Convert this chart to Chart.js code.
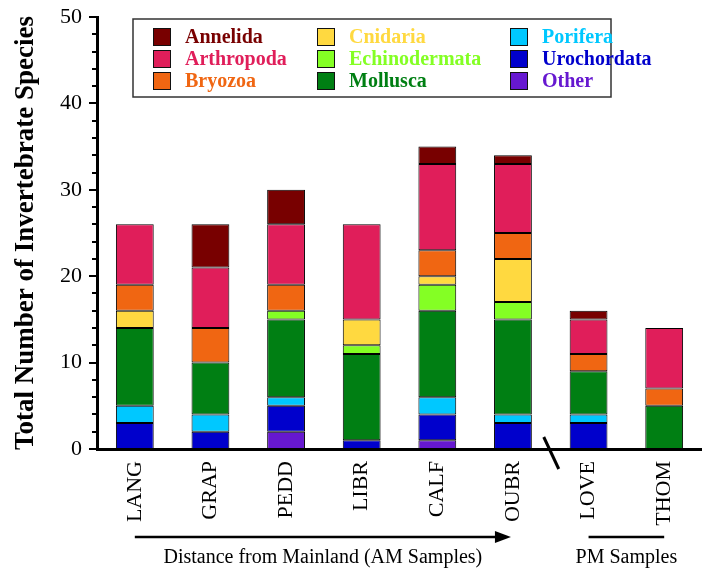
<!DOCTYPE html>
<html>
<head>
<meta charset="utf-8">
<script src="https://cdn.jsdelivr.net/npm/chart.js@4"></script>
<style>
  html, body { margin: 0; padding: 0; background: #fff; }
  #wrap { width: 702px; height: 569px; }
</style>
</head>
<body>
<div id="wrap"><canvas id="chart" width="702" height="569"></canvas></div>
<script>
// sites, left to right
const sites = ['LANG', 'GRAP', 'PEDD', 'LIBR', 'CALF', 'OUBR', 'LOVE', 'THOM'];

// species counts per phylum (bottom of stack first)
const other         = [0, 0, 2, 0, 1, 0, 0, 0];
const urochordata   = [3, 2, 3, 1, 3, 3, 3, 0];
const porifera      = [2, 2, 1, 0, 2, 1, 1, 0];
const mollusca      = [9, 6, 9, 10, 10, 11, 5, 5];
const echinodermata = [0, 0, 1, 1, 3, 2, 0, 0];
const cnidaria      = [2, 0, 0, 3, 1, 5, 0, 0];
const bryozoa       = [3, 4, 3, 0, 3, 3, 2, 2];
const arthropoda    = [7, 7, 7, 11, 10, 8, 4, 7];
const annelida      = [0, 5, 4, 0, 2, 1, 1, 0];

const yTicks = [0, 10, 20, 30, 40, 50];

const serif = '"Liberation Serif", "Times New Roman", serif';

const series = [
    { label: 'Other',         data: other,         color: '#6618d0' },
    { label: 'Urochordata',   data: urochordata,   color: '#0000cc' },
    { label: 'Porifera',      data: porifera,      color: '#00c8ff' },
    { label: 'Mollusca',      data: mollusca,      color: '#007f13' },
    { label: 'Echinodermata', data: echinodermata, color: '#84ff24' },
    { label: 'Cnidaria',      data: cnidaria,      color: '#ffd940' },
    { label: 'Bryozoa',       data: bryozoa,       color: '#f06612' },
    { label: 'Arthropoda',    data: arthropoda,    color: '#e01e5a' },
    { label: 'Annelida',      data: annelida,      color: '#780000' }
];

// legend columns (column-major, as in the figure)
const legendOrder = [
    ['Annelida', 'Arthropoda', 'Bryozoa'],
    ['Cnidaria', 'Echinodermata', 'Mollusca'],
    ['Porifera', 'Urochordata', 'Other']
];

// custom legend box
const gridLegend = {
    id: 'gridLegend',
    afterDraw(chart) {
        const ctx = chart.ctx;
        ctx.save();
        ctx.fillStyle = '#fff';
        ctx.fillRect(133, 19, 478, 78);
        ctx.strokeStyle = '#333';
        ctx.lineWidth = 1.5;
        ctx.strokeRect(133, 19, 478, 78);
        const colX = [153, 317, 510];
        const rowY = [37, 59, 81];
        ctx.font = 'bold 20px ' + serif;
        ctx.textBaseline = 'middle';
        legendOrder.forEach((col, ci) => {
            col.forEach((name, ri) => {
                const s = series.find(d => d.label === name);
                ctx.fillStyle = s.color;
                ctx.fillRect(colX[ci], rowY[ri] - 9, 18, 18);
                ctx.strokeStyle = '#111';
                ctx.lineWidth = 1;
                ctx.strokeRect(colX[ci] + 0.5, rowY[ri] - 8.5, 17, 17);
                ctx.fillStyle = s.color;
                ctx.fillText(name, colX[ci] + 32, rowY[ri] + 1);
            });
        });
        ctx.restore();
    }
};

// y tick marks, axis break and the notes under the x axis
const axisExtras = {
    id: 'axisExtras',
    afterDraw(chart) {
        const ctx = chart.ctx;
        const x = chart.scales.x;
        const y = chart.scales.y;
        const left = chart.chartArea.left;
        const base = y.getPixelForValue(0);
        ctx.save();
        ctx.strokeStyle = '#000';

        // major and minor ticks
        ctx.lineWidth = 2;
        for (let v = 0; v <= 50; v += 2) {
            const py = Math.round(y.getPixelForValue(v));
            const len = v % 10 === 0 ? 8 : 5;
            ctx.beginPath();
            ctx.moveTo(left - len, py);
            ctx.lineTo(left, py);
            ctx.stroke();
        }

        // break mark between AM and PM sites
        const mid = (x.getPixelForValue(5) + x.getPixelForValue(6)) / 2;
        ctx.lineWidth = 3;
        ctx.beginPath();
        ctx.moveTo(mid - 7, base - 12);
        ctx.lineTo(mid + 8, base + 20);
        ctx.stroke();

        // arrow for AM samples
        const ay = 537;
        const ax0 = x.getPixelForValue(0);
        const ax1 = x.getPixelForValue(5) - 2;
        ctx.lineWidth = 2.5;
        ctx.beginPath();
        ctx.moveTo(ax0, ay);
        ctx.lineTo(ax1 - 12, ay);
        ctx.stroke();
        ctx.fillStyle = '#000';
        ctx.beginPath();
        ctx.moveTo(ax1, ay);
        ctx.lineTo(ax1 - 16, ay - 6);
        ctx.lineTo(ax1 - 16, ay + 6);
        ctx.closePath();
        ctx.fill();

        // line for PM samples
        ctx.beginPath();
        ctx.moveTo(x.getPixelForValue(6), ay);
        ctx.lineTo(x.getPixelForValue(7), ay);
        ctx.stroke();

        ctx.font = '20px ' + serif;
        ctx.textAlign = 'center';
        ctx.textBaseline = 'middle';
        ctx.fillText('Distance from Mainland (AM Samples)', (ax0 + ax1) / 2, 558);
        ctx.fillText('PM Samples', (x.getPixelForValue(6) + x.getPixelForValue(7)) / 2, 558);
        ctx.restore();
    }
};

function noPad(s) {
    s.paddingTop = 0;
    s.paddingBottom = 0;
    s.paddingLeft = 0;
    s.paddingRight = 0;
}

document.addEventListener('DOMContentLoaded', function() {
    const ctx = document.getElementById('chart').getContext('2d');

    new Chart(ctx, {
        type: 'bar',
        data: {
            labels: sites,
            datasets: series.map(s => ({
                label: s.label,
                data: s.data.map(v => v === 0 ? null : v),
                backgroundColor: s.color,
                borderColor: '#000',
                borderWidth: 1,
                borderSkipped: false,
                barPercentage: 0.5,
                categoryPercentage: 1.0
            }))
        },
        options: {
            responsive: false,
            animation: false,
            layout: {
                padding: { top: 17, right: 0, left: 0, bottom: 0 }
            },
            plugins: {
                legend: { display: false },
                tooltip: { enabled: false }
            },
            scales: {
                x: {
                    stacked: true,
                    afterFit: s => { s.height = 120; noPad(s); },
                    grid: { display: false, drawTicks: false },
                    border: { display: true, color: '#000', width: 3 },
                    ticks: {
                        color: '#000',
                        font: { family: serif, size: 22 },
                        minRotation: 90,
                        maxRotation: 90,
                        padding: 12
                    }
                },
                y: {
                    stacked: true,
                    min: 0,
                    max: 50,
                    afterFit: s => { s.width = 97; noPad(s); },
                    afterBuildTicks: s => { s.ticks = yTicks.map(v => ({ value: v })); },
                    grid: { display: false, drawTicks: false },
                    border: { display: true, color: '#000', width: 3 },
                    ticks: {
                        color: '#000',
                        font: { family: serif, size: 22 },
                        padding: 15
                    },
                    title: {
                        display: true,
                        text: 'Total Number of Invertebrate Species',
                        color: '#000',
                        font: { family: serif, size: 27, weight: 'bold' },
                        padding: { top: 10, bottom: 4 }
                    }
                }
            }
        },
        plugins: [gridLegend, axisExtras]
    });
});
</script>
</body>
</html>
